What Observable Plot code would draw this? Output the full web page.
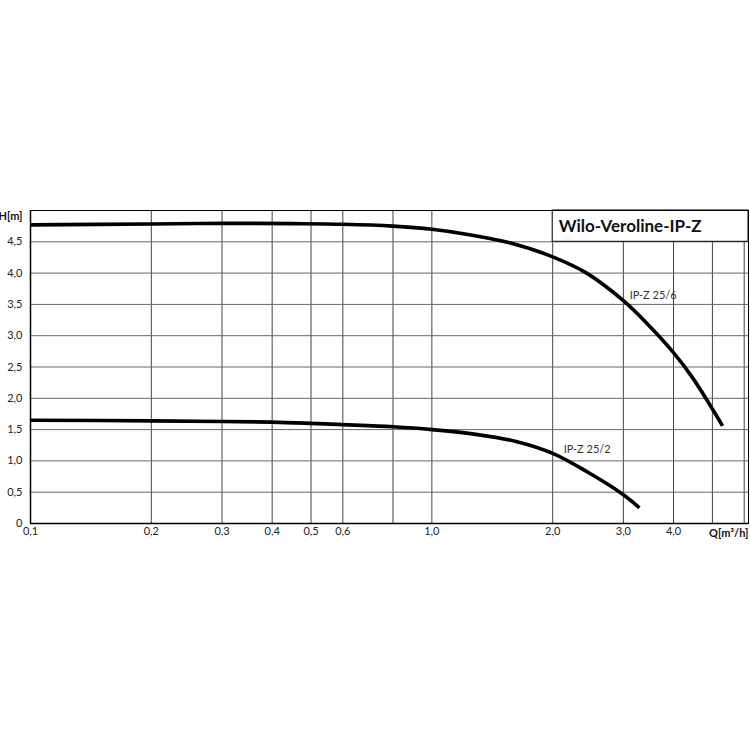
<!DOCTYPE html>
<html>
<head>
<meta charset="utf-8">
<script src="https://cdn.jsdelivr.net/npm/d3@7"></script>
<script src="https://cdn.jsdelivr.net/npm/@observablehq/plot@0.6"></script>
<style>
  html, body { margin: 0; padding: 0; background: #fff; }
  #chart { width: 750px; height: 750px; }
</style>
</head>
<body>
<div id="chart"></div>
<script>
// ---- data ----
const title = "Wilo-Veroline-IP-Z";
const xLabel = "Q[m³/h]";
const yLabel = "H[m]";

const qTicks = [0.1, 0.2, 0.3, 0.4, 0.5, 0.6, 0.8, 1.0, 2.0, 3.0, 4.0];
const qTickLabels = ["0,1", "0,2", "0,3", "0,4", "0,5", "0,6", "0,8", "1,0", "2,0", "3,0", "4,0"];
const qGrid = [0.2, 0.3, 0.4, 0.5, 0.6, 0.8, 1.0, 2.0, 3.0, 4.0, 5.0, 6.0];
const qDomain = [0.1, 6.15];

const hTicks = [0, 0.5, 1.0, 1.5, 2.0, 2.5, 3.0, 3.5, 4.0, 4.5];
const hTickLabels = ["0", "0,5", "1,0", "1,5", "2,0", "2,5", "3,0", "3,5", "4,0", "4,5"];
const hDomain = [0, 5];

const seriesNames = ["IP-Z 25/6", "IP-Z 25/2"];
const q256 = [0.1, 0.2, 0.3, 0.45, 0.6, 0.8, 1.0, 1.25, 1.57, 2.0, 2.43, 3.0, 3.43, 4.0, 4.46, 5.0, 5.30];
const h256 = [4.77, 4.785, 4.795, 4.79, 4.78, 4.75, 4.70, 4.61, 4.48, 4.26, 4.00, 3.56, 3.20, 2.73, 2.33, 1.83, 1.56];
const q252 = [0.1, 0.2, 0.3, 0.4, 0.5, 0.6, 0.8, 1.0, 1.3, 1.62, 2.0, 2.43, 3.0, 3.29];
const h252 = [1.65, 1.64, 1.63, 1.62, 1.60, 1.58, 1.545, 1.50, 1.42, 1.31, 1.12, 0.83, 0.46, 0.25];
const labelQ = [3.11, 2.13];
const labelH = [3.65, 1.18];

// ---- build tables ----
const curves = [
  ...q256.map((q, i) => ({series: seriesNames[0], q, h: h256[i]})),
  ...q252.map((q, i) => ({series: seriesNames[1], q, h: h252[i]}))
];
const labels = seriesNames.map((s, i) => ({text: s, q: labelQ[i], h: labelH[i]}));
const titleBox = [{q1: qTicks[8], q2: qDomain[1], h1: hTicks[9], h2: hDomain[1]}];

const font = "Lato, 'Open Sans', sans-serif";

const chart = Plot.plot({
  width: 750,
  height: 750,
  marginLeft: 30,
  marginRight: 2,
  marginTop: 210,
  marginBottom: 227,
  style: {fontFamily: font, background: "white", color: "#222"},
  x: {type: "log", domain: qDomain},
  y: {domain: hDomain},
  marks: [
    Plot.ruleX(qGrid, {stroke: "#444", strokeWidth: 1}),
    Plot.ruleY(hTicks.slice(1), {stroke: "#666", strokeWidth: 1}),
    Plot.rect(titleBox, {x1: "q1", x2: "q2", y1: "h1", y2: "h2", fill: "white", stroke: "black", strokeWidth: 1}),
    Plot.text(titleBox, {x: "q1", y: d => (d.h1 + d.h2) / 2, text: () => title, textAnchor: "start", dx: 6, fontSize: 17, fontWeight: "bold", fill: "#111"}),
    Plot.frame({stroke: "black", strokeWidth: 1}),
    Plot.ruleX([qDomain[0]], {stroke: "black", strokeWidth: 1.5}),
    Plot.ruleY([hDomain[0]], {stroke: "black", strokeWidth: 1.5}),
    Plot.line(curves, {x: "q", y: "h", z: "series", stroke: "black", strokeWidth: 3.6, curve: "catmull-rom", strokeLinecap: "butt"}),
    Plot.text(labels, {x: "q", y: "h", text: "text", textAnchor: "start", fontSize: 11, fill: "#333"}),
    Plot.axisX({ticks: qTicks, tickFormat: d => qTickLabels[qTicks.indexOf(d)], tickSize: 0, tickPadding: 4, fontSize: 11, label: null}),
    Plot.axisY({ticks: hTicks, tickFormat: d => hTickLabels[hTicks.indexOf(d)], tickSize: 0, tickPadding: 8, fontSize: 11, label: null}),
    Plot.text([yLabel], {x: qDomain[0], y: hDomain[1], text: d => d, textAnchor: "end", dx: -8, dy: 6, fontSize: 11, fontWeight: "bold", fill: "#111"}),
    Plot.text([xLabel], {x: qDomain[1], y: hDomain[0], text: d => d, textAnchor: "end", dy: 10, fontSize: 11, fontWeight: "bold", fill: "#111"})
  ]
});
document.getElementById("chart").appendChild(chart);
</script>
</body>
</html>
